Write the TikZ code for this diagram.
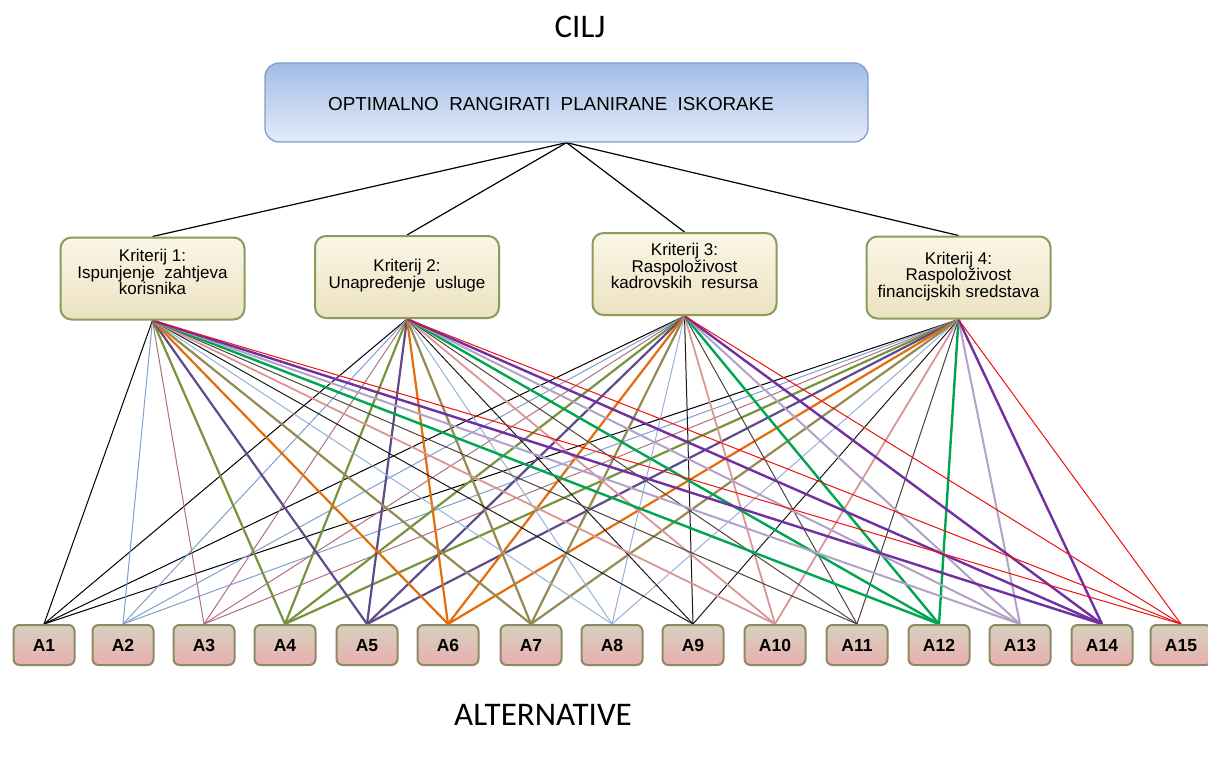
\documentclass[tikz,border=0pt]{standalone}
\usepackage{fontspec}
\setmainfont{Liberation Sans}
\newfontfamily\calfont{Carlito}
\definecolor{goalborder}{HTML}{7F9DD0}
\definecolor{goaltop}{HTML}{A3BCE6}
\definecolor{goalbot}{HTML}{E3EBF7}
\definecolor{critborder}{HTML}{8C9A5B}
\definecolor{crittop}{HTML}{FBF6E6}
\definecolor{critbot}{HTML}{ECE2C2}
\definecolor{altborder}{HTML}{8E8A62}
\definecolor{alttop}{HTML}{D6D1BE}
\definecolor{altbot}{HTML}{E9AFAE}
\definecolor{cA}{HTML}{000000}
\definecolor{cB}{HTML}{7F9FCF}
\definecolor{cC}{HTML}{B0707E}
\definecolor{cD}{HTML}{77933C}
\definecolor{cE}{HTML}{5F4B8B}
\definecolor{cF}{HTML}{E46C0A}
\definecolor{cG}{HTML}{948A54}
\definecolor{cH}{HTML}{95B3D7}
\definecolor{cI}{HTML}{1A1A1A}
\definecolor{cJ}{HTML}{D99694}
\definecolor{cK}{HTML}{4F4440}
\definecolor{cL}{HTML}{00A550}
\definecolor{cM}{HTML}{B3A2C7}
\definecolor{cN}{HTML}{7030A0}
\definecolor{cO}{HTML}{F01010}
\pgfdeclarelayer{bg}
\pgfdeclarelayer{lines}
\pgfsetlayers{bg,lines,main}
\tikzset{
  goal/.style={draw=goalborder, line width=1.3pt, rounded corners=14pt, top color=goaltop, bottom color=goalbot, minimum width=603pt, minimum height=79pt, inner sep=0pt},
  crit/.style={draw=critborder, line width=2pt, rounded corners=11pt, top color=crittop, bottom color=critbot, minimum width=184pt, minimum height=82pt, inner sep=0pt},
  crittext/.style={align=center, font=\fontsize{17}{15.5}\selectfont, inner sep=0pt},
  alt/.style={draw=altborder, line width=2pt, rounded corners=6pt, top color=alttop, bottom color=altbot, minimum width=61pt, minimum height=40pt, inner sep=0pt, text height=12.5pt, text depth=0pt, font=\bfseries\fontsize{17.5}{19}\selectfont},
  heading/.style={font=\calfont\fontsize{33}{35}\selectfont, anchor=base, inner sep=0pt},
  topline/.style={black, line width=1.2pt},
  link/.style={line width=#1},
}
\begin{document}
\begin{tikzpicture}[x=1pt,y=-1pt]
\begin{pgfonlayer}{bg}
\fill[white] (0,0) rectangle (1208,757);
\end{pgfonlayer}
\useasboundingbox (0,0) rectangle (1208,757);

\node[heading] (cilj) at (580,38) {CILJ};
\node[heading] (altlabel) at (543,725) {ALTERNATIVE};

\node[goal] (goal) at (566.5,102.5) {};
\node[inner sep=0pt, font=\fontsize{18.8}{21}\selectfont] (goaltext) at (551,104) {OPTIMALNO\ \ RANGIRATI\ \ PLANIRANE\ \ ISKORAKE};

\node[crit] (k1) at (152.5,278.5) {};
\node[crit] (k2) at (407,277) {};
\node[crit] (k3) at (684.5,274) {};
\node[crit] (k4) at (958.5,277.5) {};
\node[crittext] (k1t) at (152.5,272) {Kriterij 1:\\Ispunjenje\ \ zahtjeva\\korisnika};
\node[crittext] (k2t) at (407,275.5) {Kriterij 2:\\Unapređenje\ \ usluge};
\node[crittext] (k3t) at (684.5,266) {Kriterij 3:\\Raspoloživost\\kadrovskih\ \ resursa};
\node[crittext] (k4t) at (958.5,276.5) {Kriterij 4:\\Raspoloživost\\financijskih sredstava};

\foreach \i/\x in {1/44,2/123,3/204,4/285,5/367,6/448,7/531,8/612,9/693,10/775,11/857,12/939,13/1020,14/1102,15/1181}{
  \node[alt] (a\i) at (\x,645) {A\i};
}

\begin{pgfonlayer}{lines}
\foreach \k in {k1,k2,k3,k4}{
  \draw[topline] (goal.south) -- (\k.north);
}
\foreach \i/\c/\w in {1/cA/1pt,2/cB/1pt,3/cC/1pt,4/cD/2.2pt,5/cE/2.2pt,6/cF/2.2pt,7/cG/2.2pt,8/cH/1pt,9/cI/1pt,10/cJ/1.8pt,11/cK/1pt,12/cL/2.4pt,13/cM/2pt,14/cN/2.4pt,15/cO/1pt}{
  \foreach \k in {k1,k2,k3,k4}{
    \draw[\c, link=\w] (\k.south) -- (a\i.north);
  }
}
\end{pgfonlayer}
\end{tikzpicture}
\end{document}
